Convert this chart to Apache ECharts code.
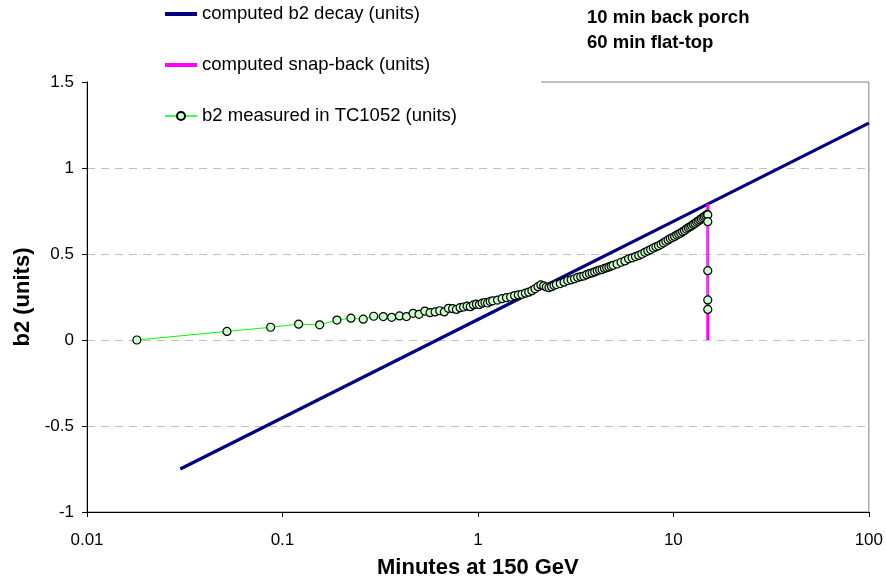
<!DOCTYPE html>
<html>
<head>
<meta charset="utf-8">
<script src="https://cdn.jsdelivr.net/npm/echarts@6/dist/echarts.min.js"></script>
<style>html,body{margin:0;padding:0;background:#fff}#c{width:886px;height:588px}</style>
</head>
<body>
<div id="c"></div>
<script>
// computed b2 decay (units)
var decayT = [0.03, 0.1, 1, 10, 100];
var decayB2 = [-0.75, -0.452, 0.119, 0.69, 1.261];
// computed snap-back (units)
var snapT = [15, 15];
var snapB2 = [0.79, 0];
// b2 measured in TC1052 (units)
var measT = [0.018,0.052,0.087,0.121,0.155,0.19,0.224,0.259,0.293,0.328,0.362,0.397,0.431,0.466,0.5,0.535,0.569,0.604,0.638,0.673,0.707,0.742,0.776,0.811,0.845,0.88,0.914,0.949,0.983,1.018,1.052,1.087,1.121,1.156,1.19,
1.26,1.33,1.40,1.47,1.54,1.61,1.68,1.75,1.82,1.89,1.96,2.03,2.10,2.17,2.24,2.31,2.38,2.45,2.52,
2.64,2.76,2.88,3.00,3.12,3.24,3.36,3.48,3.60,3.72,3.84,3.96,4.08,4.20,4.32,4.44,4.56,4.68,4.80,4.92,
5.15,5.4,5.65,5.9,6.15,6.4,6.65,6.9,7.15,7.4,7.65,7.9,8.15,8.4,8.65,8.9,9.15,9.4,9.65,9.9,10.15,10.4,10.65,10.9,11.15,11.4,11.65,11.9,12.15,12.4,12.65,12.9,13.15,13.4,13.65,13.9,14.15,14.4,14.65,14.9,
15,15,15,15,15];
var measB2 = [0,0.05,0.074,0.092,0.088,0.116,0.127,0.121,0.138,0.136,0.132,0.14,0.136,0.155,0.149,0.168,0.159,0.163,0.17,0.163,0.184,0.182,0.178,0.188,0.192,0.197,0.194,0.204,0.208,0.206,0.214,0.218,0.215,0.224,0.228,
0.232,0.24,0.246,0.25,0.258,0.262,0.266,0.272,0.278,0.287,0.298,0.31,0.32,0.315,0.308,0.305,0.31,0.318,0.322,
0.328,0.336,0.346,0.35,0.356,0.364,0.368,0.372,0.38,0.386,0.39,0.396,0.402,0.407,0.41,0.416,0.42,0.425,0.43,0.434,
0.442,0.452,0.46,0.472,0.478,0.485,0.492,0.5,0.51,0.518,0.526,0.535,0.542,0.548,0.556,0.565,0.574,0.582,0.59,0.596,0.602,0.61,0.616,0.622,0.63,0.636,0.645,0.652,0.658,0.664,0.672,0.678,0.686,0.692,0.698,0.705,0.712,0.718,0.724,0.73,
0.727,0.688,0.403,0.233,0.178];
var xTicks = [0.01, 0.1, 1, 10, 100];
var yTicks = [-1, -0.5, 0, 0.5, 1, 1.5];

function pairs(a, b) { return a.map(function (v, i) { return [v, b[i]]; }); }

var FONT = '"Liberation Sans", Arial, sans-serif';
var chart = echarts.init(document.getElementById('c'), null, { renderer: 'canvas' });
chart.setOption({
  animation: false,
  backgroundColor: '#ffffff',
  textStyle: { fontFamily: FONT },
  title: {
    text: '10 min back porch\n60 min flat-top',
    left: 587, top: 5, padding: 0,
    textStyle: { fontFamily: FONT, fontSize: 18.5, fontWeight: 'bold', color: '#000', lineHeight: 25 }
  },
  grid: {
    left: 87, right: 16, top: 82, bottom: 76,
    show: true, borderColor: '#808080', borderWidth: 1, backgroundColor: 'transparent'
  },
  legend: {
    orient: 'vertical', left: 88, top: 0,
    padding: [4, 84, 12, 75],
    backgroundColor: '#ffffff',
    itemWidth: 32, itemHeight: 10, itemGap: 31,
    textStyle: { fontFamily: FONT, fontSize: 18.5, color: '#000', lineHeight: 20 },
    data: [
      { name: 'computed b2 decay (units)', itemStyle: { opacity: 0 }, lineStyle: { width: 4 } },
      { name: 'computed snap-back (units)', itemStyle: { opacity: 0 }, lineStyle: { width: 4 } },
      { name: 'b2 measured in TC1052 (units)', lineStyle: { width: 1.5 } }
    ]
  },
  xAxis: {
    type: 'log', logBase: 10, min: xTicks[0], max: xTicks[xTicks.length - 1],
    name: 'Minutes at 150 GeV', nameLocation: 'middle', nameGap: 45,
    nameTextStyle: { fontFamily: FONT, fontSize: 22, fontWeight: 'bold', color: '#000' },
    axisLine: { show: true, onZero: false, lineStyle: { color: '#000', width: 1 } },
    axisTick: { show: true, inside: false, length: 5, lineStyle: { color: '#000' } },
    minorTick: { show: false },
    axisLabel: { fontFamily: FONT, fontSize: 17, color: '#000', margin: 20,
      formatter: function (v) { return String(+v.toPrecision(6)); } },
    splitLine: { show: false }
  },
  yAxis: {
    type: 'value', min: yTicks[0], max: yTicks[yTicks.length - 1], interval: 0.5,
    name: 'b2 (units)', nameLocation: 'middle', nameGap: 44,
    nameTextStyle: { fontFamily: FONT, fontSize: 22, fontWeight: 'bold', color: '#000' },
    axisLine: { show: true, onZero: false, lineStyle: { color: '#000', width: 1 } },
    axisTick: { show: true, inside: false, length: 5, lineStyle: { color: '#000' } },
    axisLabel: { fontFamily: FONT, fontSize: 17, color: '#000', margin: 13 },
    splitLine: { show: true, lineStyle: { color: '#c0c0c0', type: [8, 6], width: 1 } }
  },
  series: [
    {
      name: 'computed b2 decay (units)', type: 'line', data: pairs(decayT, decayB2),
      symbol: 'none', z: 2,
      lineStyle: { color: '#000080', width: 3.2 }, itemStyle: { color: '#000080' }
    },
    {
      name: 'computed snap-back (units)', type: 'line', data: pairs(snapT, snapB2),
      symbol: 'none', z: 3,
      lineStyle: { color: '#ff00ff', width: 3 }, itemStyle: { color: '#ff00ff' }
    },
    {
      name: 'b2 measured in TC1052 (units)', type: 'line', data: pairs(measT, measB2),
      symbol: 'circle', symbolSize: 8, showAllSymbol: true, z: 4,
      lineStyle: { color: '#00ff00', width: 1 },
      itemStyle: { color: '#ccffcc', borderColor: '#000000', borderWidth: 1.2 }
    }
  ]
});
</script>
</body>
</html>
